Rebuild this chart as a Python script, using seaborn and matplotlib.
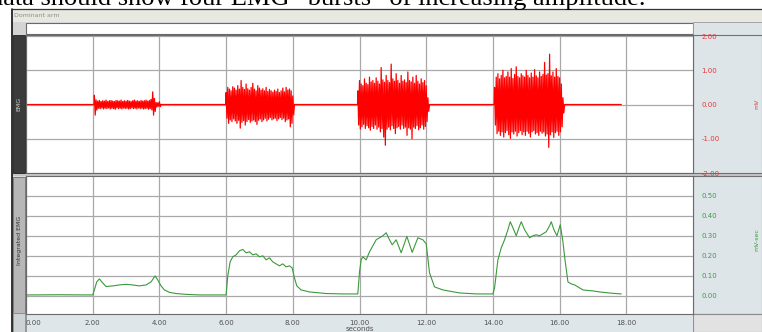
import matplotlib
matplotlib.use("Agg")
import matplotlib.pyplot as plt
from matplotlib.patches import Rectangle
import seaborn as sns

# ---- data -------------------------------------------------------------
# Raw EMG bursts: start time (s), sample spacing (s), upper / lower peaks (mV)
burst_starts = [2.05, 6.0, 9.95, 14.05]
burst_step = 0.05
burst_hi = [
    [0.27, 0.14, 0.10, 0.12, 0.09, 0.11, 0.10, 0.13, 0.09, 0.11, 0.12, 0.10, 0.09, 0.12,
     0.11, 0.10, 0.13, 0.09, 0.11, 0.10, 0.12, 0.10, 0.09, 0.11, 0.13, 0.10, 0.11, 0.09,
     0.12, 0.10, 0.11, 0.13, 0.10, 0.12, 0.15, 0.37, 0.18, 0.06, 0.05, 0.08],
    [0.35, 0.50, 0.45, 0.40, 0.52, 0.48, 0.42, 0.55, 0.45, 0.70, 0.50, 0.44, 0.60, 0.46,
     0.42, 0.50, 0.62, 0.45, 0.40, 0.55, 0.48, 0.42, 0.46, 0.40, 0.50, 0.38, 0.44, 0.40,
     0.36, 0.42, 0.38, 0.45, 0.35, 0.40, 0.48, 0.37, 0.50, 0.42, 0.45, 0.40, 0.25],
    [0.40, 0.70, 0.60, 0.55, 0.75, 0.62, 0.58, 0.80, 0.66, 0.70, 0.62, 0.78, 0.68, 0.60,
     1.08, 0.72, 0.65, 0.85, 0.70, 0.64, 1.18, 0.75, 0.68, 0.90, 0.70, 0.62, 0.85, 0.68,
     0.72, 0.64, 0.95, 0.70, 0.66, 0.80, 0.62, 0.85, 0.68, 0.60, 0.75, 0.64, 0.70, 0.55, 0.20],
    [0.50, 0.80, 0.90, 0.75, 0.85, 1.00, 0.78, 0.82, 0.95, 0.80, 1.05, 0.76, 0.88, 1.10,
     0.82, 0.78, 0.90, 0.84, 0.80, 1.00, 0.85, 0.78, 0.92, 0.80, 1.02, 0.84, 0.78, 0.95,
     0.82, 0.88, 1.23, 0.86, 0.90, 1.47, 0.84, 0.95, 0.80, 1.05, 0.82, 0.78, 0.60, 0.20],
]
burst_lo = [
    [-0.31, -0.16, -0.11, -0.12, -0.10, -0.13, -0.11, -0.12, -0.10, -0.13, -0.11, -0.12,
     -0.14, -0.10, -0.12, -0.11, -0.13, -0.10, -0.12, -0.11, -0.13, -0.12, -0.10, -0.12,
     -0.11, -0.13, -0.10, -0.12, -0.11, -0.13, -0.12, -0.11, -0.14, -0.12, -0.16, -0.31,
     -0.20, -0.07, -0.05, -0.06],
    [-0.40, -0.55, -0.45, -0.50, -0.42, -0.48, -0.55, -0.46, -0.69, -0.52, -0.47, -0.60,
     -0.50, -0.44, -0.52, -0.48, -0.45, -0.50, -0.58, -0.46, -0.42, -0.50, -0.45, -0.40,
     -0.48, -0.43, -0.38, -0.45, -0.42, -0.40, -0.47, -0.42, -0.38, -0.44, -0.40, -0.50,
     -0.45, -0.42, -0.65, -0.55, -0.30],
    [-0.60, -0.72, -0.65, -0.58, -0.70, -0.62, -0.68, -0.75, -0.64, -0.70, -0.60, -0.72,
     -0.66, -0.80, -0.70, -0.95, -1.19, -0.72, -0.66, -0.74, -0.62, -0.70, -0.85, -0.68,
     -0.64, -0.72, -0.60, -0.70, -0.66, -0.90, -0.68, -0.72, -1.00, -0.66, -0.70, -0.62,
     -0.74, -0.68, -0.60, -0.72, -0.64, -0.50, -0.20],
    [-0.60, -0.85, -0.78, -0.90, -0.80, -0.95, -0.82, -0.76, -0.88, -0.99, -0.80, -0.86,
     -0.78, -0.92, -0.82, -0.76, -0.88, -0.80, -0.90, -0.78, -0.84, -0.95, -0.80, -0.76,
     -0.86, -0.82, -0.90, -0.78, -0.84, -0.80, -0.92, -0.86, -1.25, -0.88, -0.80, -0.96,
     -0.82, -0.78, -0.90, -0.80, -0.65, -0.25],
]
record_end = 17.85

# Integrated EMG (mV-sec)
int_time = [0.0, 1.0, 2.0, 2.05, 2.12, 2.2, 2.3, 2.4, 2.6, 2.8, 3.0, 3.2, 3.4, 3.6, 3.75,
            3.87, 3.95, 4.05, 4.15, 4.3, 4.5, 4.8, 5.2, 6.0,
            6.05, 6.12, 6.2, 6.3, 6.4, 6.5, 6.6, 6.7, 6.8, 6.9, 7.0, 7.1, 7.2, 7.3, 7.4,
            7.5, 7.6, 7.7, 7.8, 7.9, 7.98, 8.05, 8.12, 8.25, 8.5, 9.0, 9.5, 9.95,
            10.0, 10.05, 10.1, 10.2, 10.3, 10.4, 10.5, 10.6, 10.7, 10.8, 10.9, 10.98, 11.1,
            11.25, 11.42, 11.58, 11.75, 11.9, 12.0, 12.1, 12.25, 12.5, 13.0, 13.5, 14.0,
            14.05, 14.15, 14.25, 14.35, 14.45, 14.52, 14.6, 14.7, 14.78, 14.85, 14.95,
            15.1, 15.2, 15.3, 15.4, 15.5, 15.6, 15.7, 15.75, 15.83, 15.92, 16.02, 16.1,
            16.15, 16.25, 16.35, 16.45, 16.7, 17.0, 17.2, 17.6, 17.85]
int_value = [0.005, 0.006, 0.005, 0.03, 0.07, 0.085, 0.065, 0.047, 0.05, 0.055, 0.058,
             0.055, 0.05, 0.055, 0.07, 0.10, 0.08, 0.05, 0.03, 0.018, 0.012, 0.008, 0.005,
             0.005,
             0.10, 0.17, 0.195, 0.205, 0.225, 0.232, 0.215, 0.22, 0.205, 0.21, 0.195, 0.20,
             0.18, 0.19, 0.17, 0.16, 0.15, 0.16, 0.145, 0.15, 0.14, 0.09, 0.05, 0.03, 0.02,
             0.012, 0.01, 0.01,
             0.12, 0.18, 0.195, 0.18, 0.22, 0.25, 0.28, 0.29, 0.30, 0.315, 0.28, 0.255, 0.28,
             0.215, 0.297, 0.217, 0.29, 0.28, 0.26, 0.115, 0.045, 0.03, 0.015, 0.01, 0.01,
             0.04, 0.18, 0.24, 0.28, 0.33, 0.37, 0.34, 0.30, 0.34, 0.37, 0.33, 0.29, 0.30,
             0.305, 0.30, 0.31, 0.32, 0.35, 0.37, 0.33, 0.30, 0.355, 0.27, 0.195, 0.07, 0.06,
             0.055, 0.03, 0.025, 0.02, 0.013, 0.01]

x_ticks = [0, 2, 4, 6, 8, 10, 12, 14, 16, 18]
emg_ticks = [-2, -1, 0, 1, 2]
int_ticks = [0.0, 0.1, 0.2, 0.3, 0.4, 0.5]

# ---- assemble the raw EMG trace --------------------------------------
emg_t, emg_v = [0.0], [0.0]
for t0, hi, lo in zip(burst_starts, burst_hi, burst_lo):
    emg_t.append(t0 - 0.01)
    emg_v.append(0.0)
    for i, (h, l) in enumerate(zip(hi, lo)):
        emg_t += [t0 + i * burst_step, t0 + (i + 0.5) * burst_step]
        emg_v += [h, l]
    emg_t.append(t0 + len(hi) * burst_step)
    emg_v.append(0.0)
emg_t.append(record_end)
emg_v.append(0.0)

# ---- figure layout (pixel geometry) ----------------------------------
W, H = 762, 332
sns.set_style("white")
plt.rcParams["font.family"] = ["DejaVu Sans"]
fig = plt.figure(figsize=(W / 100, H / 100), dpi=100)
fig.patch.set_facecolor("white")


def frac(x0, y0, x1, y1):
    return [x0 / W, 1 - y1 / H, (x1 - x0) / W, (y1 - y0) / H]


def block(x0, y0, x1, y1, fc, ec="none", lw=0.8):
    l, b, w, h = frac(x0, y0, x1, y1)
    fig.add_artist(Rectangle((l, b), w, h, transform=fig.transFigure,
                             facecolor=fc, edgecolor=ec, linewidth=lw, zorder=-5))


# window chrome
block(12, 9, 762, 332, "#d9dde0")
block(12, 9, 762, 22, "#e8e8e1")
fig.add_artist(plt.Line2D([11.5 / W, 11.5 / W], [0, 1 - 8.5 / H], transform=fig.transFigure,
                          color="#111111", lw=1.2, zorder=-4))
fig.add_artist(plt.Line2D([11.5 / W, 1], [1 - 8.5 / H, 1 - 8.5 / H], transform=fig.transFigure,
                          color="#333333", lw=0.9, zorder=-4))
block(12, 22, 26, 35, "#d4d4d4")
block(26, 23, 693, 34, "white", "#6a6a6a", 0.8)
block(693, 22, 762, 35, "#dde4e8", "#9a9a9a", 0.6)
block(12, 173, 762, 176, "#c6c6c6")
# channel label strips
block(13, 35, 25, 173, "#3b3b3b", "#222222", 0.6)
block(13, 177, 25, 313, "#b7b7b7", "#6d6d6d", 0.6)
block(13, 313, 25, 332, "#cdd2d5", "#8a8a8a", 0.6)
# scale panels on the right
block(693, 35, 762, 173, "#dde5e9", "#707070", 0.8)
block(693, 176, 762, 314, "#dde5e9", "#707070", 0.8)
block(693, 314, 762, 332, "#e2e2e2", "#8a8a8a", 0.8)
# time ruler at the bottom
block(26, 314, 693, 332, "#dfe6ea", "#8a8a8a", 0.6)

fig.text(14 / W, 1 - 15.5 / H, "Dominant arm", fontsize=4.5, color="#8c8c8c",
         va="center", ha="left")
fig.text(19 / W, 1 - 104 / H, "EMG", fontsize=4.5, color="#d0d0d0", rotation=90,
         va="center", ha="center")
fig.text(19 / W, 1 - 240 / H, "Integrated EMG", fontsize=4.5, color="#333333", rotation=90,
         va="center", ha="center")
fig.text(757 / W, 1 - 104 / H, "mV", fontsize=4.5, color="#e04040", rotation=90,
         va="center", ha="center")
fig.text(757 / W, 1 - 240 / H, "mV-sec", fontsize=4.5, color="#3ca03c", rotation=90,
         va="center", ha="center")

# caption line running across the top edge
fig.text(-10 / W, 1 - 5 / H, "data should show four EMG \u201cbursts\u201d of increasing amplitude.",
         fontsize=19, family="Liberation Serif", color="black", ha="left", va="baseline")

grid_kw = dict(color="#a9a9a9", linewidth=0.9)

# ---- EMG channel -----------------------------------------------------
ax1 = fig.add_axes(frac(26, 35, 693, 173))
sns.lineplot(x=emg_t, y=emg_v, ax=ax1, color="#ff0000", linewidth=0.9,
             estimator=None, sort=False)
ax1.set_xlim(0, 20)
ax1.set_ylim(-2.0, 2.03)
ax1.set_xticks(x_ticks)
ax1.set_yticks(emg_ticks)
ax1.set_yticklabels([f"{v:.2f}" for v in emg_ticks])
ax1.tick_params(axis="x", bottom=False, labelbottom=False)
ax1.tick_params(axis="y", left=False, labelleft=False, right=False, labelright=True,
                length=0, pad=6, labelsize=5, labelcolor="#e03a3a")
ax1.grid(True, **grid_kw)
ax1.set_axisbelow(True)
ax1.set_xlabel("")
ax1.set_ylabel("")
for s in ax1.spines.values():
    s.set_color("#6a6a6a")
    s.set_linewidth(0.8)

# ---- Integrated EMG channel -----------------------------------------
ax2 = fig.add_axes(frac(26, 176, 693, 314))
sns.lineplot(x=int_time, y=int_value, ax=ax2, color="#3a9a3a", linewidth=0.8,
             estimator=None, sort=False)
ax2.set_xlim(0, 20)
ax2.set_ylim(-0.09, 0.598)
ax2.set_xticks(x_ticks)
ax2.set_xticklabels([f"{v:.2f}" for v in x_ticks])
ax2.set_yticks(int_ticks)
ax2.set_yticklabels([f"{v:.2f}" for v in int_ticks])
ax2.tick_params(axis="x", bottom=False, length=0, pad=4, labelsize=5, labelcolor="#505050")
ax2.tick_params(axis="y", left=False, labelleft=False, right=False, labelright=True,
                length=0, pad=6, labelsize=5, labelcolor="#3ca03c")
ax2.get_xticklabels()[0].set_ha("left")
ax2.grid(True, **grid_kw)
ax2.set_axisbelow(True)
ax2.set_xlabel("seconds", fontsize=5, color="#505050", labelpad=0)
ax2.set_ylabel("")
for s in ax2.spines.values():
    s.set_color("#6a6a6a")
    s.set_linewidth(0.8)

fig.savefig("out.png", dpi=100)
